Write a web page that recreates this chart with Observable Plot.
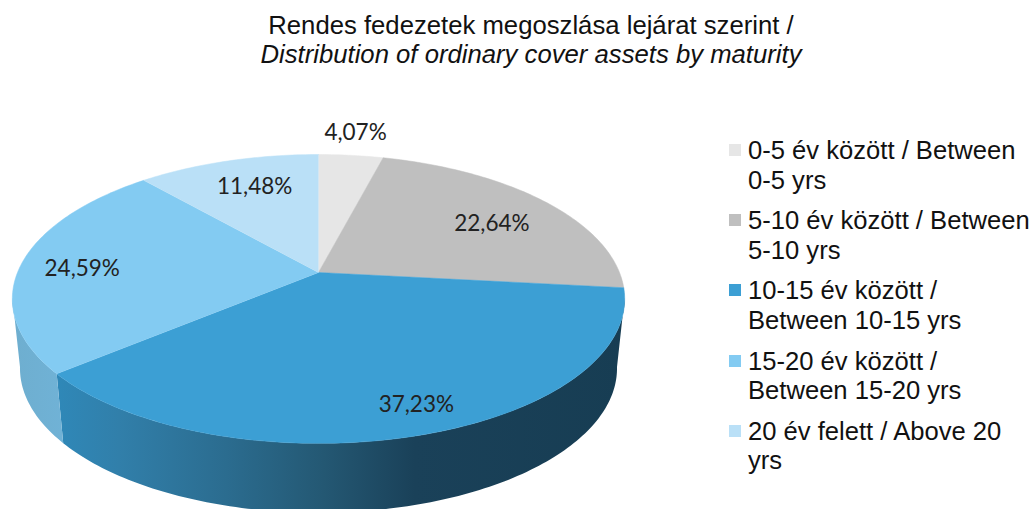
<!DOCTYPE html>
<html>
<head>
<meta charset="utf-8">
<script src="https://cdn.jsdelivr.net/npm/d3@7"></script>
<script src="https://cdn.jsdelivr.net/npm/@observablehq/plot@0.6"></script>
<style>
html,body{margin:0;padding:0;background:#fff;overflow:hidden;width:1032px;height:509px}
#wrap{position:relative;width:1032px;height:509px;overflow:hidden}
#chart{position:absolute;left:0;top:0}
#chart svg{overflow:hidden;display:block;background:transparent}
#title{position:absolute;left:131px;width:800px;top:11px;text-align:center;font:25.7px/29px "Liberation Sans",Arial,sans-serif;color:#111;white-space:nowrap}
#title i{font-style:italic}
#legend{position:absolute;left:729px;top:136px;font:25.6px/29.5px "Liberation Sans",Arial,sans-serif;color:#111}
.row{position:relative;height:70.2px;padding-left:19px;white-space:pre;box-sizing:border-box}
.sw{position:absolute;left:0;top:8px;width:12px;height:12px}
</style>
</head>
<body>
<div id="wrap">
<div id="chart"></div>
<div id="title">Rendes fedezetek megoszlása lejárat szerint /<br><i>Distribution of ordinary cover assets by maturity</i></div>
<div id="legend"></div>
</div>
<script>
// Data
const categories = [
  "0-5 év között / Between\n0-5 yrs",
  "5-10 év között / Between\n5-10 yrs",
  "10-15 év között /\nBetween 10-15 yrs",
  "15-20 év között /\nBetween 15-20 yrs",
  "20 év felett / Above 20\nyrs"
];
const shares = [4.07, 22.64, 37.23, 24.59, 11.48];
const labels = ["4,07%", "22,64%", "37,23%", "24,59%", "11,48%"];
const colors = ["#E6E6E6", "#BFBFBF", "#3C9FD4", "#83CBF2", "#BAE0F7"];

// Label anchors on the pie plane, in the chart's own units
const labelX = [0.123, 0.576, 0.325, -0.785, -0.212];
const labelY = [1.003, 0.346, -0.945, 0.029, 0.613];

// Perspective of the tilted disc
const tilt = 0.183;
const depth = 0.497;
const bottomScale = 0.975;
// Angles where the disc's outline turns, so the wall ends there
const rimStart = 100;
const rimEnd = 260;

const total = d3.sum(shares);
const project = (deg, s = 1, drop = 0) => {
  const t = deg * Math.PI / 180, u = Math.sin(t), v = Math.cos(t), w = 1 + tilt * v;
  return {x: s * u / w, y: v / w - drop};
};
let acc = 0;
const slices = shares.map((d, i) => {
  const a0 = acc / total * 360; acc += d; const a1 = acc / total * 360;
  return {name: categories[i], a0, a1};
});

const arcPts = (a0, a1, s, drop) => {
  const n = Math.max(2, Math.ceil(Math.abs(a1 - a0)));
  return d3.range(n + 1).map(j => project(a0 + (a1 - a0) * j / n, s, drop));
};

// Top face
const topFace = slices.flatMap(s => [
  {x: 0, y: 0, slice: s.name},
  ...arcPts(s.a0, s.a1, 1, 0).map(p => ({...p, slice: s.name}))
]);

// Side wall between two angles: upper rim forward, lower rim back
const wall = (a0, a1) => [
  ...arcPts(a0, a1, 1, 0),
  ...arcPts(a1, a0, bottomScale, depth)
];
const blue = slices[2], sky = slices[3];
const blueWall = wall(rimStart, blue.a1);
const skyWall = wall(sky.a0, rimEnd);

const gradients = () => {
  const svg = d3.create("svg:g");
  const defs = svg.append("defs");
  const g = defs.append("linearGradient").attr("id", "blueSide").attr("x1", 0).attr("x2", 1).attr("y1", 0).attr("y2", 0);
  [[0, "#2F88B8"], [0.11, "#317FAA"], [0.3, "#2B6C8F"], [0.47, "#245873"], [0.63, "#1A4159"], [1, "#173D53"]]
    .forEach(([o, c]) => g.append("stop").attr("offset", o).attr("stop-color", c));
  const h = defs.append("linearGradient").attr("id", "skySide").attr("x1", 0).attr("x2", 1).attr("y1", 0).attr("y2", 0);
  [[0, "#6EAECF"], [1, "#70B2D6"]]
    .forEach(([o, c]) => h.append("stop").attr("offset", o).attr("stop-color", c));
  return svg.node();
};

const chart = Plot.plot({
  width: 1032, height: 509,
  margin: 0,
  x: {domain: [-1, 1], range: [17, 619], axis: null},
  y: {domain: [-1, 1], range: [411.6, 132.4], axis: null},
  color: {domain: categories, range: colors},
  marks: [
    gradients,
    Plot.line(blueWall, {x: "x", y: "y", fill: "url(#blueSide)", stroke: "none"}),
    Plot.line(skyWall, {x: "x", y: "y", fill: "url(#skySide)", stroke: "none"}),
    Plot.line(topFace, {x: "x", y: "y", z: "slice", fill: "slice", stroke: "slice", strokeWidth: 0.5}),
    Plot.text(labels, {
      x: (d, i) => labelX[i], y: (d, i) => labelY[i], text: d => d,
      fontFamily: "Lato", fontSize: 22.5, fill: "#222", lineAnchor: "middle", textAnchor: "middle"
    })
  ]
});
document.getElementById("chart").append(chart);

const legend = d3.select("#legend");
categories.forEach((c, i) => {
  const row = legend.append("div").attr("class", "row").text(c);
  row.append("span").attr("class", "sw").style("background", colors[i]);
});
</script>
</body>
</html>
